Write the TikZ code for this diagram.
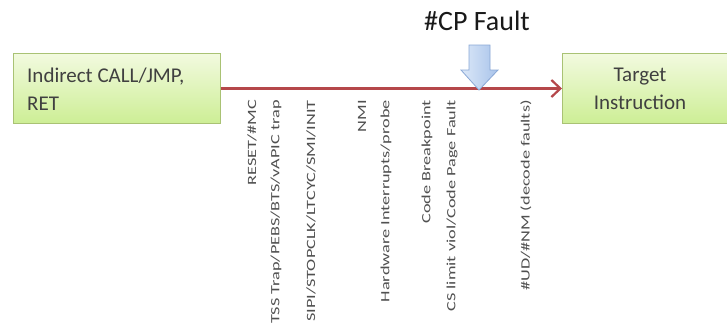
\documentclass[tikz,border=0pt]{standalone}
\usepackage{fontspec}
\setmainfont{Carlito}
\usetikzlibrary{arrows.meta}
\definecolor{boxtop}{HTML}{F2FADF}
\definecolor{boxbot}{HTML}{CDEE95}
\definecolor{boxedge}{HTML}{A9C274}
\definecolor{txt}{HTML}{404040}
\definecolor{lbl}{HTML}{505050}
\definecolor{redline}{HTML}{B5474A}
\definecolor{bluetop}{HTML}{DCE8F8}
\definecolor{bluebot}{HTML}{A8C3EA}
\definecolor{blueedge}{HTML}{8AA8D6}
\tikzset{
  greenbox/.style={draw=boxedge, line width=1pt, top color=boxtop, bottom color=boxbot,
    minimum height=70pt, inner sep=0pt},
  boxtext/.style={text=txt, font=\fontsize{21}{28}\selectfont, inner sep=0pt},
  vlabel/.style={rotate=90, anchor=east, inner sep=0pt, text=lbl, font=\fontsize{12.6}{14}\selectfont},
  blockarrow/.style={draw=blueedge, line width=0.8pt, left color=bluetop, right color=bluebot, line join=miter},
}
\newcommand{\vtext}[1]{\scalebox{1.45}[1]{#1}}
\begin{document}
\begin{tikzpicture}[x=1pt,y=-1pt]
\useasboundingbox (0,0) rectangle (727,330);
\fill[white] (0,0) rectangle (727,330);
% boxes
\node[greenbox, minimum width=207pt, anchor=north west] (src) at (13,53) {};
\node[boxtext, anchor=west, align=left] (srct) at (27,89) {Indirect CALL/JMP,\\RET};
\node[greenbox, minimum width=175pt, anchor=north west] (dst) at (562,53) {};
\node[boxtext, align=center] (dstt) at (640,89) {Target\\Instruction};
% main arrow
\draw[redline, line width=2.6pt, -{Straight Barb[length=9pt,width=17pt,line width=2.2pt]}] (src.east) -- (dst.west);
% blue block arrow
\coordinate (cptip) at (479,90);
\path[blockarrow] (cptip) -- (498,70) -- (490,70) -- (490,45) -- (469,45) -- (469,70) -- (461,70) -- cycle;
\node[font=\fontsize{28}{30}\selectfont, text=black!90, inner sep=0pt] (cpt) at (477,21) {\#CP Fault};
% labels
\node[vlabel] (l1) at (252,100) {\vtext{RESET/\#MC}};
\node[vlabel] (l2) at (276,100) {\vtext{TSS Trap/PEBS/BTS/vAPIC trap}};
\node[vlabel] (l3) at (311,100) {\vtext{SIPI/STOPCLK/LTCYC/SMI/INIT}};
\node[vlabel] (l4) at (362,100) {\vtext{NMI}};
\node[vlabel] (l5) at (386,100) {\vtext{Hardware Interrupts/probe}};
\node[vlabel] (l6) at (427,100) {\vtext{Code Breakpoint}};
\node[vlabel] (l7) at (452,100) {\vtext{CS limit viol/Code Page Fault}};
\node[vlabel] (l8) at (526,100) {\vtext{\#UD/\#NM (decode faults)}};
\end{tikzpicture}
\end{document}
